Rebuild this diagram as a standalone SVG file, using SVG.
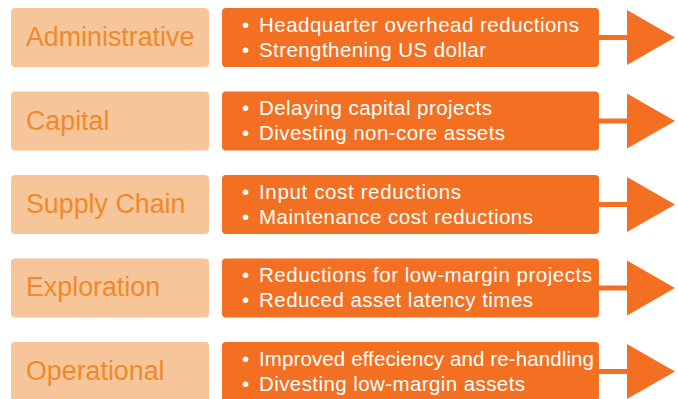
<svg xmlns="http://www.w3.org/2000/svg" width="678" height="399" viewBox="0 0 678 399">
<style>
.lbox{fill:#F6C59A}
.rbox{fill:#F37022}
.ltxt{font-family:"Liberation Sans",Arial,sans-serif;font-size:26.8px;fill:#EF8A2C}
.rtxt{font-family:"Liberation Sans",Arial,sans-serif;font-size:20.5px;fill:#FFFFFF}
.arr{fill:#F37022}
</style>
<rect width="678" height="399" fill="#FFFFFF"/>
<g id="row-administrative">
<rect class="lbox" x="11" y="8" width="198" height="59" rx="4"/>
<text class="ltxt" x="26" y="46">Administrative</text>
</g>
<g id="detail-administrative">
<rect class="rbox" x="222" y="8" width="377" height="59" rx="4"/>
<text class="rtxt" x="242" y="31.5">•<tspan x="259" textLength="320" lengthAdjust="spacing">Headquarter overhead reductions</tspan></text>
<text class="rtxt" x="242" y="56.5">•<tspan x="259" textLength="227" lengthAdjust="spacing">Strengthening US dollar</tspan></text>
</g>
<g id="row-capital">
<rect class="lbox" x="11" y="91.5" width="198" height="59" rx="4"/>
<text class="ltxt" x="26" y="129.5">Capital</text>
</g>
<g id="detail-capital">
<rect class="rbox" x="222" y="91.5" width="377" height="59" rx="4"/>
<text class="rtxt" x="242" y="115">•<tspan x="259" textLength="233" lengthAdjust="spacing">Delaying capital projects</tspan></text>
<text class="rtxt" x="242" y="140">•<tspan x="259" textLength="246" lengthAdjust="spacing">Divesting non-core assets</tspan></text>
</g>
<g id="row-supply-chain">
<rect class="lbox" x="11" y="175" width="198" height="59" rx="4"/>
<text class="ltxt" x="26" y="213">Supply Chain</text>
</g>
<g id="detail-supply-chain">
<rect class="rbox" x="222" y="175" width="377" height="59" rx="4"/>
<text class="rtxt" x="242" y="198.5">•<tspan x="259" textLength="202" lengthAdjust="spacing">Input cost reductions</tspan></text>
<text class="rtxt" x="242" y="223.5">•<tspan x="259" textLength="274" lengthAdjust="spacing">Maintenance cost reductions</tspan></text>
</g>
<g id="row-exploration">
<rect class="lbox" x="11" y="258.5" width="198" height="59" rx="4"/>
<text class="ltxt" x="26" y="296">Exploration</text>
</g>
<g id="detail-exploration">
<rect class="rbox" x="222" y="258.5" width="377" height="59" rx="4"/>
<text class="rtxt" x="242" y="282">•<tspan x="259" textLength="333" lengthAdjust="spacing">Reductions for low-margin projects</tspan></text>
<text class="rtxt" x="242" y="307">•<tspan x="259" textLength="274" lengthAdjust="spacing">Reduced asset latency times</tspan></text>
</g>
<g id="row-operational">
<rect class="lbox" x="11" y="342" width="198" height="59" rx="4"/>
<text class="ltxt" x="26" y="379.5">Operational</text>
</g>
<g id="detail-operational">
<rect class="rbox" x="222" y="342" width="377" height="59" rx="4"/>
<text class="rtxt" x="242" y="365.5">•<tspan x="259" textLength="335" lengthAdjust="spacing">Improved effeciency and re-handling</tspan></text>
<text class="rtxt" x="242" y="390.5">•<tspan x="259" textLength="266" lengthAdjust="spacing">Divesting low-margin assets</tspan></text>
</g>
<g id="connectors">
<rect class="arr" x="598" y="35" width="31" height="5"/>
<polygon class="arr" points="627,10 675,37.5 627,65"/>
<rect class="arr" x="598" y="118.5" width="31" height="5"/>
<polygon class="arr" points="627,93.5 675,121 627,148.5"/>
<rect class="arr" x="598" y="202" width="31" height="5"/>
<polygon class="arr" points="627,177 675,204.5 627,232"/>
<rect class="arr" x="598" y="285.5" width="31" height="5"/>
<polygon class="arr" points="627,260.5 675,288 627,315.5"/>
<rect class="arr" x="598" y="369" width="31" height="5"/>
<polygon class="arr" points="627,344 675,371.5 627,399"/>
</g>
</svg>
